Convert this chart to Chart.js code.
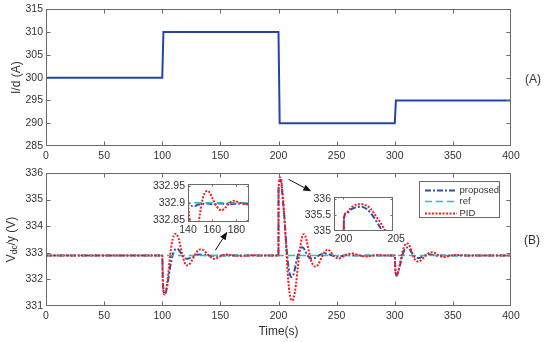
<!DOCTYPE html>
<html><head><meta charset="utf-8">
<script src="https://cdn.jsdelivr.net/npm/chart.js@4.4.0/dist/chart.umd.min.js"></script>
<style>
html,body{margin:0;padding:0;background:#fff;}
#wrap{position:relative;width:550px;height:342px;background:#fff;}
canvas{position:absolute;left:0;top:0;width:550px;height:342px;}
</style></head><body>
<div id="wrap">
<canvas id="cA" width="550" height="342"></canvas>
<canvas id="cB" width="550" height="342"></canvas>
<canvas id="cI1" width="550" height="342"></canvas>
<canvas id="cI2" width="550" height="342"></canvas>
</div>
<script>
// ---------- DATA ----------
// Panel (A): current reference step
const stepTime = [0, 100, 101, 200, 201, 300, 301, 400];
const idValues = [300, 300, 310, 310, 290, 290, 295, 295];

// Panel (B): DC voltage responses
const timeB = [
  0, 99.9,
  100, 100.5, 101, 102, 103, 104, 105, 106, 107, 108, 109, 110, 111, 112, 113, 114, 115, 116, 117, 118, 119, 120, 121, 122, 123, 124, 125, 126,
  128, 130, 132, 134, 136, 138, 140, 142, 144, 146, 148, 150, 152, 154, 156, 158, 160, 162, 164, 166, 168, 170, 172, 174, 176, 178, 180,
  183, 186, 190, 195, 199.95,
  200.05, 200.3, 200.8, 201.3, 201.7, 202.2, 202.6, 203, 203.5, 204,
  205, 206, 207, 208, 209, 210, 211, 212, 213, 214, 215, 216, 217, 218, 219, 220, 221, 222, 223, 224, 225, 226, 227, 228, 229, 230, 231, 232, 233, 234,
  236, 238, 240, 242, 244, 246, 248, 250, 252, 254, 256, 258, 260, 262, 264,
  267, 270, 273, 276, 279, 282, 285, 288, 291, 294, 299.9,
  300, 300.5, 301, 301.5, 302, 303, 304, 305, 306, 307, 308, 309, 310, 311, 312, 313, 314, 315, 316, 317, 318, 319, 320, 321, 322,
  324, 326, 328, 330, 332, 334, 336, 338, 340, 342, 344, 346, 348, 350, 353, 356, 360, 365, 370, 380, 400
];
const proposed = [
  332.9, 332.9,
  332.88, 332.0, 331.6, 331.45, 331.5, 331.68, 331.95, 332.25, 332.52, 332.75, 332.93, 333.05, 333.12, 333.15, 333.15, 333.12, 333.06, 332.99, 332.92, 332.86, 332.82, 332.79, 332.78, 332.78, 332.79, 332.81, 332.83, 332.86,
  332.9, 332.93, 332.935, 332.93, 332.92, 332.91, 332.9, 332.893, 332.89, 332.891, 332.894, 332.896, 332.897, 332.898, 332.898, 332.897, 332.896, 332.896, 332.897, 332.898, 332.898, 332.897, 332.897, 332.896, 332.896, 332.897, 332.897,
  332.898, 332.898, 332.898, 332.9, 332.9,
  335.4, 335.55, 335.68, 335.74, 335.75, 335.68, 335.55, 335.36, 335.1, 334.85,
  334.35, 333.75, 333.15, 332.68, 332.35, 332.15, 332.09, 332.1, 332.2, 332.38, 332.6, 332.8, 332.97, 333.1, 333.18, 333.21, 333.2, 333.15, 333.07, 332.98, 332.9, 332.84, 332.8, 332.78, 332.77, 332.78, 332.8, 332.82, 332.85, 332.88,
  332.93, 332.96, 332.97, 332.96, 332.93, 332.9, 332.88, 332.87, 332.87, 332.88, 332.9, 332.91, 332.91, 332.91, 332.9,
  332.9, 332.89, 332.89, 332.9, 332.9, 332.9, 332.9, 332.9, 332.9, 332.9, 332.9,
  332.88, 332.4, 332.2, 332.15, 332.17, 332.28, 332.45, 332.62, 332.8, 332.95, 333.07, 333.15, 333.19, 333.2, 333.18, 333.12, 333.05, 332.97, 332.9, 332.85, 332.82, 332.8, 332.8, 332.8, 332.82,
  332.86, 332.9, 332.93, 332.94, 332.93, 332.91, 332.89, 332.89, 332.9, 332.9, 332.9, 332.9, 332.9, 332.9, 332.9, 332.9, 332.9, 332.9, 332.9, 332.9, 332.9
];
const pid = [
  332.9, 332.9,
  332.88, 331.95, 331.58, 331.43, 331.52, 331.78, 332.15, 332.58, 332.98, 333.3, 333.52, 333.65, 333.71, 333.72, 333.66, 333.55, 333.38, 333.18, 332.98, 332.8, 332.66, 332.57, 332.53, 332.53, 332.55, 332.6, 332.67, 332.75,
  332.92, 333.05, 333.12, 333.13, 333.08, 332.99, 332.9, 332.83, 332.78, 332.78, 332.82, 332.87, 332.91, 332.93, 332.936, 332.93, 332.915, 332.9, 332.888, 332.88, 332.878, 332.882, 332.89, 332.898, 332.904, 332.906, 332.904,
  332.9, 332.897, 332.895, 332.9, 332.9,
  335.42, 335.58, 335.74, 335.82, 335.83, 335.78, 335.68, 335.5, 335.26, 335.0,
  334.4, 333.65, 332.88, 332.2, 331.68, 331.36, 331.22, 331.21, 331.3, 331.5, 331.8, 332.2, 332.62, 333.0, 333.3, 333.55, 333.68, 333.7, 333.64, 333.5, 333.3, 333.08, 332.88, 332.72, 332.6, 332.52, 332.49, 332.48, 332.5, 332.55,
  332.72, 332.9, 333.05, 333.12, 333.08, 332.97, 332.86, 332.8, 332.79, 332.82, 332.87, 332.92, 332.95, 332.97, 332.97,
  332.94, 332.9, 332.87, 332.86, 332.88, 332.9, 332.92, 332.91, 332.9, 332.9, 332.9,
  332.88, 332.38, 332.18, 332.14, 332.17, 332.3, 332.5, 332.72, 332.93, 333.1, 333.23, 333.31, 333.35, 333.35, 333.32, 333.24, 333.12, 332.99, 332.87, 332.77, 332.71, 332.68, 332.67, 332.68, 332.7,
  332.78, 332.87, 332.95, 333.0, 333.02, 333.0, 332.95, 332.9, 332.86, 332.84, 332.85, 332.87, 332.89, 332.91, 332.92, 332.91, 332.9, 332.89, 332.9, 332.9, 332.9
];
const refTime = [0, 400];
const refValues = [332.9, 332.9];

// Tick labels
const xTicks = [0, 50, 100, 150, 200, 250, 300, 350, 400];
const yTicksA = [285, 290, 295, 300, 305, 310, 315];
const yTicksB = [331, 332, 333, 334, 335, 336];
const inset1XTicks = [140, 160, 180];
const inset1YTicks = [332.85, 332.9, 332.95];
const inset2XTicks = [200, 205];
const inset2YTicks = [335, 335.5, 336];

// ---------- STYLE ----------
const W = 550, H = 342;
const FRAME = '#6a6a6a';
const TEXT = '#333333';
const BLUE_A = '#2445a6';
const BLUE = '#2f4fb0';
const CYAN = '#1fc4c4';
const RED = '#ff1a1a';
Chart.defaults.font.family = "'Liberation Sans', Arial, Helvetica, sans-serif";
Chart.defaults.color = TEXT;

const pts = (xs, ys) => xs.map((x, i) => ({x, y: ys[i]}));

function scale(min, max, ticks, isX, fitSize, pad, fontSize, extra) {
  return Object.assign({
    type: 'linear', min, max,
    afterBuildTicks: s => { s.ticks = ticks.map(v => ({value: v})); },
    afterFit: s => { if (isX) s.height = fitSize; else s.width = fitSize; },
    grid: {display: false, drawTicks: false},
    border: {display: false},
    ticks: {padding: pad, font: {size: fontSize}, color: TEXT, maxRotation: 0, minRotation: 0, autoSkip: false,
            callback: v => String(v)}
  }, extra || {});
}

const framePlugin = {
  id: 'frame',
  beforeDatasetsDraw(chart, args, o) {
    if (!o.fill) return;
    const {ctx, chartArea: a} = chart;
    ctx.save(); ctx.fillStyle = o.fill;
    ctx.fillRect(a.left, a.top, a.right - a.left, a.bottom - a.top);
    ctx.restore();
  },
  afterDatasetsDraw(chart, args, o) {
    const {ctx, chartArea: a, scales} = chart;
    const L = o.tick || 4;
    ctx.save();
    ctx.strokeStyle = FRAME; ctx.lineWidth = 1; ctx.setLineDash([]);
    const l = Math.round(a.left) + 0.5, r = Math.round(a.right) - 0.5;
    const t = Math.round(a.top) + 0.5, b = Math.round(a.bottom) - 0.5;
    ctx.beginPath();
    scales.x.ticks.forEach(tk => {
      const px = scales.x.getPixelForValue(tk.value);
      if (px < a.left + 1 || px > a.right - 1) return;
      const p = Math.round(px) + 0.5;
      ctx.moveTo(p, b); ctx.lineTo(p, b - L);
      ctx.moveTo(p, t); ctx.lineTo(p, t + L);
    });
    scales.y.ticks.forEach(tk => {
      const py = scales.y.getPixelForValue(tk.value);
      if (py < a.top + 1 || py > a.bottom - 1) return;
      const p = Math.round(py) + 0.5;
      ctx.moveTo(l, p); ctx.lineTo(l + L, p);
      ctx.moveTo(r, p); ctx.lineTo(r - L, p);
    });
    ctx.stroke();
    ctx.strokeRect(l, t, r - l, b - t);
    ctx.restore();
  }
};

const textPlugin = {
  id: 'sideText',
  afterDraw(chart, args, o) {
    const ctx = chart.ctx;
    ctx.save();
    (o.items || []).forEach(it => {
      ctx.fillStyle = TEXT;
      ctx.font = it.size + "px 'Liberation Sans', Arial, sans-serif";
      ctx.textAlign = 'center'; ctx.textBaseline = 'middle';
      ctx.fillText(it.text, it.x, it.y);
    });
    ctx.restore();
  }
};

const vTitlePlugin = {
  id: 'vTitle',
  afterDraw(chart, args, o) {
    if (!o.parts) return;
    const ctx = chart.ctx;
    ctx.save();
    ctx.translate(o.x, (chart.chartArea.top + chart.chartArea.bottom) / 2);
    ctx.rotate(-Math.PI / 2);
    ctx.fillStyle = TEXT; ctx.textBaseline = 'middle'; ctx.textAlign = 'left';
    let total = 0;
    o.parts.forEach(p => { ctx.font = p.size + "px 'Liberation Sans', Arial, sans-serif"; p.w = ctx.measureText(p.text).width; total += p.w; });
    let x = -total / 2;
    o.parts.forEach(p => {
      ctx.font = p.size + "px 'Liberation Sans', Arial, sans-serif";
      ctx.fillText(p.text, x, p.dy || 0);
      x += p.w;
    });
    ctx.restore();
  }
};

const legendPlugin = {
  id: 'boxLegend',
  afterDraw(chart, args, o) {
    if (!o.box) return;
    const ctx = chart.ctx; const bx = o.box;
    ctx.save();
    ctx.fillStyle = '#fff'; ctx.fillRect(bx.x, bx.y, bx.w, bx.h);
    ctx.strokeStyle = FRAME; ctx.lineWidth = 1; ctx.strokeRect(bx.x + 0.5, bx.y + 0.5, bx.w, bx.h);
    let row = 0;
    chart.data.datasets.forEach(ds => {
      if (!ds.label) return;
      const yy = Math.round(bx.y + o.firstRow + row * o.rowH) + 0.5;
      ctx.strokeStyle = ds.borderColor; ctx.lineWidth = ds.borderWidth;
      ctx.setLineDash(ds.borderDash || []);
      ctx.beginPath(); ctx.moveTo(bx.x + o.lineX0, yy); ctx.lineTo(bx.x + o.lineX1, yy); ctx.stroke();
      ctx.setLineDash([]);
      ctx.fillStyle = TEXT; ctx.font = o.size + "px 'Liberation Sans', Arial, sans-serif";
      ctx.textAlign = 'left'; ctx.textBaseline = 'middle';
      ctx.fillText(ds.label, bx.x + o.textX, yy);
      row++;
    });
    ctx.restore();
  }
};

const arrowPlugin = {
  id: 'arrows',
  afterDraw(chart, args, o) {
    if (!o.list) return;
    const {ctx, scales: {x, y}} = chart;
    ctx.save();
    ctx.strokeStyle = '#111'; ctx.fillStyle = '#111'; ctx.lineWidth = 1; ctx.setLineDash([]);
    o.list.forEach(a => {
      const x0 = x.getPixelForValue(a.from[0]), y0 = y.getPixelForValue(a.from[1]);
      const x1 = x.getPixelForValue(a.to[0]), y1 = y.getPixelForValue(a.to[1]);
      const ang = Math.atan2(y1 - y0, x1 - x0);
      const hl = 8, hw = 3.2;
      const bxp = x1 - hl * Math.cos(ang), byp = y1 - hl * Math.sin(ang);
      ctx.beginPath(); ctx.moveTo(x0, y0); ctx.lineTo(bxp, byp); ctx.stroke();
      ctx.beginPath();
      ctx.moveTo(x1, y1);
      ctx.lineTo(bxp + hw * Math.sin(ang), byp - hw * Math.cos(ang));
      ctx.lineTo(bxp - hw * Math.sin(ang), byp + hw * Math.cos(ang));
      ctx.closePath(); ctx.fill();
    });
    ctx.restore();
  }
};

const plugins = [framePlugin, textPlugin, vTitlePlugin, legendPlugin, arrowPlugin];

function baseOptions(area, xs, ys, pluginOpts) {
  return {
    responsive: false, animation: false, devicePixelRatio: 1,
    layout: {padding: {left: 0, top: area.top, right: W - area.right, bottom: 0}},
    scales: {x: xs, y: ys},
    plugins: Object.assign({legend: {display: false}, tooltip: {enabled: false}}, pluginOpts),
    elements: {point: {radius: 0}, line: {borderCapStyle: 'butt'}}
  };
}

const areaA = {left: 46, top: 9, right: 511, bottom: 146};
const areaB = {left: 46, top: 173, right: 511, bottom: 306};
const areaI1 = {left: 188, top: 184, right: 249, bottom: 222};
const areaI2 = {left: 334, top: 197, right: 393, bottom: 231};

// ---------- PANEL A ----------
new Chart(document.getElementById('cA'), {
  type: 'line',
  data: {datasets: [{data: pts(stepTime, idValues), borderColor: BLUE_A, borderWidth: 2, tension: 0, pointRadius: 0}]},
  options: baseOptions(areaA,
    scale(0, 400, xTicks, true, H - areaA.bottom, 4, 10.5),
    scale(285, 315, yTicksA, false, areaA.left, 3, 10.5,
      {title: {display: true, text: 'I/d (A)', font: {size: 12}, color: TEXT, padding: {top: 9.5, bottom: 0}}}),
    {frame: {tick: 4}, sideText: {items: [{text: '(A)', x: 533, y: 80, size: 12}]}}),
  plugins
});

// ---------- PANEL B ----------
function seriesB(withLabels) {
  return [
    {label: withLabels ? 'proposed' : '', data: pts(timeB, proposed), borderColor: BLUE, borderWidth: 2, borderDash: [6, 2, 2, 2], order: 3, pointRadius: 0, cubicInterpolationMode: 'monotone'},
    {label: withLabels ? 'ref' : '', data: pts(refTime, refValues), borderColor: CYAN, borderWidth: 1.6, borderDash: [7, 4], order: 2, pointRadius: 0},
    {label: withLabels ? 'PID' : '', data: pts(timeB, pid), borderColor: RED, borderWidth: 2, borderDash: [2, 1.5], order: 1, pointRadius: 0, cubicInterpolationMode: 'monotone'}
  ];
}

new Chart(document.getElementById('cB'), {
  type: 'line',
  data: {datasets: seriesB(true)},
  options: baseOptions(areaB,
    scale(0, 400, xTicks, true, H - areaB.bottom, 4, 10.5,
      {title: {display: true, text: 'Time(s)', font: {size: 12}, color: TEXT, padding: {top: 0, bottom: 3}}}),
    scale(331, 336, yTicksB, false, areaB.left, 3, 10.5),
    {
      frame: {tick: 4},
      sideText: {items: [{text: '(B)', x: 532, y: 241, size: 12}]},
      vTitle: {x: 11.5, parts: [{text: 'V', size: 12}, {text: 'dc', size: 8.5, dy: 3}, {text: '/y (V)', size: 12}]},
      boxLegend: {box: {x: 419, y: 181, w: 80, h: 36}, firstRow: 8.5, rowH: 11.6, lineX0: 6, lineX1: 38, textX: 40.5, size: 9.5},
      arrows: {list: [{from: [145.6, 333.09], to: [155.9, 333.79]}, {from: [208.7, 335.76], to: [228.2, 335.31]}]}
    }),
  plugins
});

// ---------- INSETS ----------
function insetOpts(area, xmin, xmax, xt, ymin, ymax, yt) {
  const o = baseOptions(area,
    scale(xmin, xmax, xt, true, H - area.bottom, 2, 10.5),
    scale(ymin, ymax, yt, false, area.left, 3, 10.5),
    {frame: {tick: 2, fill: '#ffffff'}});
  return o;
}
const i1 = seriesB(false).map(d => Object.assign(d, {clip: 0}));
new Chart(document.getElementById('cI1'), {
  type: 'line', data: {datasets: i1},
  options: insetOpts(areaI1, 140, 190.4, inset1XTicks, 332.843, 332.956, inset1YTicks),
  plugins
});
const i2 = seriesB(false).map(d => Object.assign(d, {clip: 0}));
new Chart(document.getElementById('cI2'), {
  type: 'line', data: {datasets: i2},
  options: insetOpts(areaI2, 199.1, 204.7, inset2XTicks, 335, 336.05, inset2YTicks),
  plugins
});
</script>
</body></html>
